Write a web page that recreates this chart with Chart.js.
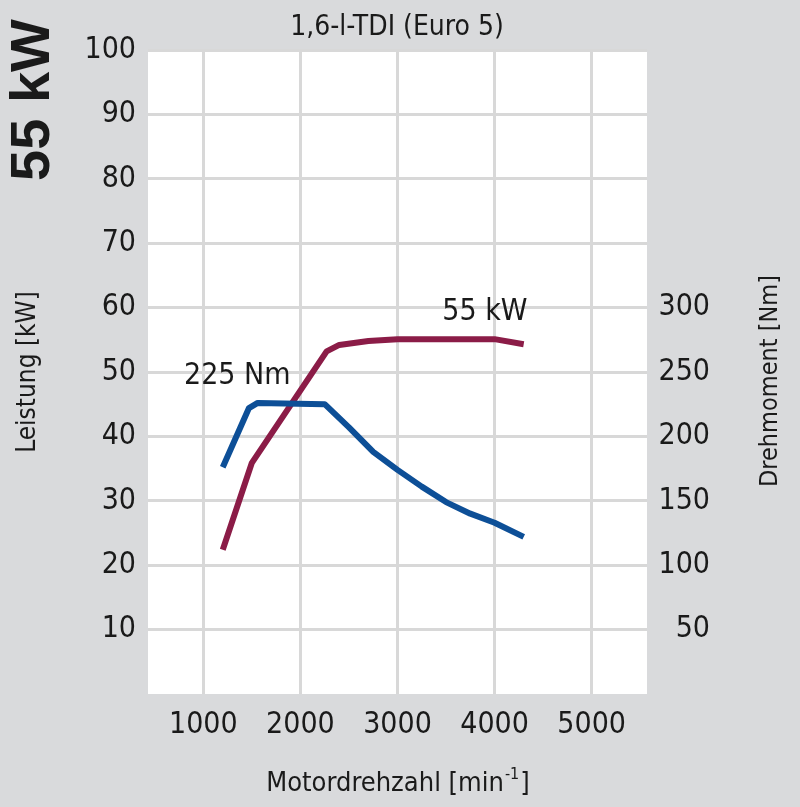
<!DOCTYPE html>
<html>
<head>
<meta charset="utf-8">
<script src="https://cdn.jsdelivr.net/npm/chart.js@4"></script>
<style>
  body { margin: 0; background: #d9dadc; }
  #wrap { width: 800px; height: 807px; }
</style>
</head>
<body>
<div id="wrap"><canvas id="motorchart"></canvas></div>
<script>
// engine speed ticks and values
var rpmTicks = [1000, 2000, 3000, 4000, 5000];
var kwTicks = [10, 20, 30, 40, 50, 60, 70, 80, 90, 100];
var nmTicks = [50, 100, 150, 200, 250, 300];

var torqueRpm = [1200, 1470, 1560, 2250, 2500, 2750, 3000, 3250, 3500, 3750, 4000, 4300];
var torqueNm  = [176, 222, 226, 225, 207, 188, 174, 161, 149, 140, 133, 122];

var powerRpm = [1200, 1500, 2270, 2400, 2700, 3000, 4000, 4300];
var powerKw  = [22.4, 35.9, 53.2, 54.2, 54.8, 55.1, 55.1, 54.3];

var notes = [
  { text: '225 Nm', rpm: 1350, kw: 49.4 },
  { text: '55 kW', rpm: 3900, kw: 59.3 }
];

var FONT = "'DejaVu Sans Condensed', 'DejaVu Sans', sans-serif";
var INK = '#1a1a1a';

function pts(xs, ys) {
    var out = [];
    for (var k = 0; k < xs.length; k++) out.push({ x: xs[k], y: ys[k] });
    return out;
}

function rotText(ctx, txt, x, y, font) {
    ctx.save();
    ctx.translate(x, y);
    ctx.rotate(-Math.PI / 2);
    ctx.font = font;
    ctx.textAlign = 'center';
    ctx.textBaseline = 'middle';
    ctx.fillText(txt, 0, 0);
    ctx.restore();
}

var decor = {
    id: 'decor',
    beforeDraw: function (chart) {
        var ctx = chart.ctx, a = chart.chartArea;
        ctx.save();
        ctx.fillStyle = '#d9dadc';
        ctx.fillRect(0, 0, chart.width, chart.height);
        ctx.fillStyle = '#ffffff';
        ctx.fillRect(a.left, a.top, a.right - a.left, a.bottom - a.top);
        ctx.restore();
    },
    afterDraw: function (chart) {
        var ctx = chart.ctx;
        var xs = chart.scales.x, ys = chart.scales.y;
        ctx.save();
        ctx.fillStyle = INK;
        ctx.textAlign = 'center';
        ctx.textBaseline = 'middle';
        ctx.font = '28px ' + FONT;
        ctx.fillText('1,6-l-TDI (Euro 5)', 397, 28);

        // x axis title with raised exponent
        var p1 = 'Motordrehzahl [min', p2 = '-1', p3 = ']';
        ctx.font = '27px ' + FONT;
        var w1 = ctx.measureText(p1).width, w3 = ctx.measureText(p3).width;
        ctx.font = '16px ' + FONT;
        var w2 = ctx.measureText(p2).width;
        var x0 = 397 - (w1 + w2 + w3) / 2;
        ctx.textAlign = 'left';
        ctx.textBaseline = 'alphabetic';
        ctx.font = '27px ' + FONT;
        ctx.fillText(p1, x0, 791);
        ctx.font = '16px ' + FONT;
        ctx.fillText(p2, x0 + w1 + 1, 779);
        ctx.font = '27px ' + FONT;
        ctx.fillText(p3, x0 + w1 + w2 + 2, 791);

        rotText(ctx, '55 kW', 34, 100, "bold 56px 'Liberation Sans', sans-serif");
        rotText(ctx, 'Leistung [kW]', 28, 372, '26px ' + FONT);
        rotText(ctx, 'Drehmoment [Nm]', 770, 381, '25px ' + FONT);

        ctx.font = '30px ' + FONT;
        ctx.textAlign = 'center';
        ctx.textBaseline = 'middle';
        notes.forEach(function (n) {
            ctx.fillText(n.text, xs.getPixelForValue(n.rpm), ys.getPixelForValue(n.kw));
        });
        ctx.restore();
    }
};

var plain = function (v) { return String(v); };

var ctx = document.getElementById('motorchart').getContext('2d');
var motorchart = new Chart(ctx, {
    type: 'line',
    data: {
        datasets: [{
            label: 'Drehmoment',
            data: pts(torqueRpm, torqueNm),
            yAxisID: 'y2',
            borderColor: '#0d4f97',
            borderWidth: 6,
            fill: false
        }, {
            label: 'Leistung',
            data: pts(powerRpm, powerKw),
            yAxisID: 'y',
            borderColor: '#8b1c47',
            borderWidth: 6,
            fill: false
        }]
    },
    options: {
        responsive: true,
        maintainAspectRatio: false,
        animation: false,
        layout: { padding: { top: 50, right: 90, bottom: 0, left: 0 } },
        elements: {
            point: { radius: 0 },
            line: { tension: 0, borderCapStyle: 'butt', borderJoinStyle: 'round' }
        },
        plugins: { legend: { display: false }, tooltip: { enabled: false } },
        scales: {
            x: {
                type: 'linear',
                min: 430,
                max: 5570,
                afterBuildTicks: function (s) { s.ticks = rpmTicks.map(function (v) { return { value: v }; }); },
                afterFit: function (s) { s.height = 113; },
                grid: { color: '#d8d8d8', lineWidth: 3, drawTicks: false },
                border: { display: false },
                ticks: { color: INK, padding: 13, maxRotation: 0, callback: plain, font: { family: FONT, size: 30 } }
            },
            y: {
                position: 'left',
                min: 0,
                max: 100,
                afterBuildTicks: function (s) { s.ticks = kwTicks.map(function (v) { return { value: v }; }); },
                afterFit: function (s) { s.width = 148; },
                grid: { color: '#d8d8d8', lineWidth: 3, drawTicks: false },
                border: { display: false },
                ticks: { color: INK, padding: 12, callback: plain, font: { family: FONT, size: 30 } }
            },
            y2: {
                position: 'right',
                min: 0,
                max: 500,
                afterBuildTicks: function (s) { s.ticks = nmTicks.map(function (v) { return { value: v }; }); },
                afterFit: function (s) { s.width = 63; },
                grid: { display: false, drawTicks: false },
                border: { display: false },
                ticks: { color: INK, padding: 12, crossAlign: 'far', callback: plain, font: { family: FONT, size: 30 } }
            }
        }
    },
    plugins: [decor]
});
</script>
</body>
</html>
